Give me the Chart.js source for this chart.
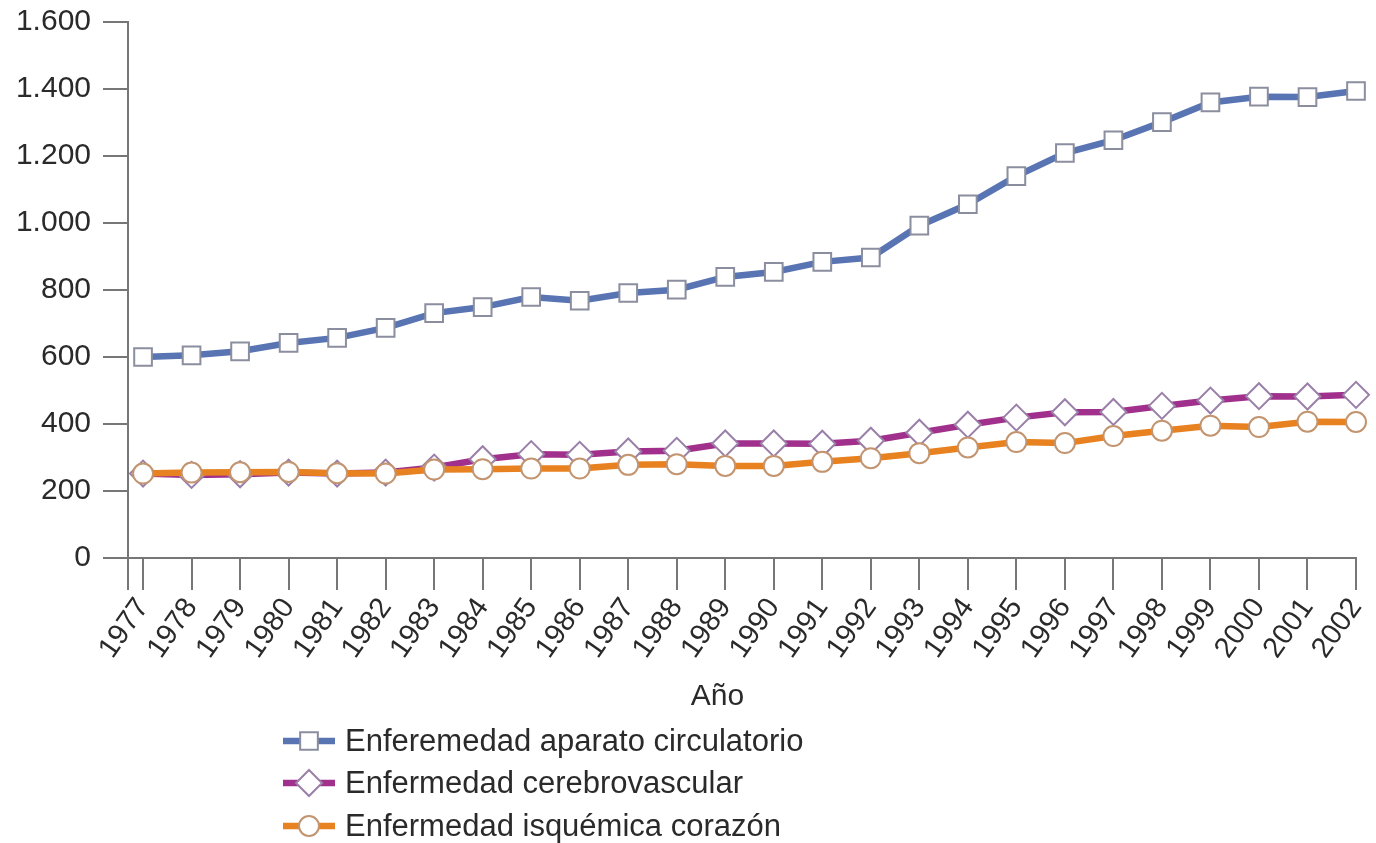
<!DOCTYPE html>
<html lang="es">
<head>
<meta charset="utf-8">
<title>Mortalidad por enfermedades del aparato circulatorio, 1977–2002</title>
<script src="https://cdn.jsdelivr.net/npm/chart.js@4/dist/chart.umd.min.js"></script>
<style>
  html, body { margin: 0; padding: 0; background: #ffffff; }
  #wrap { width: 1376px; height: 843px; }
</style>
</head>
<body>
<div id="wrap"><canvas id="chart" width="1376" height="843"></canvas></div>
<script>
// Años
const years = [1977, 1978, 1979, 1980, 1981, 1982, 1983, 1984, 1985, 1986, 1987, 1988, 1989,
               1990, 1991, 1992, 1993, 1994, 1995, 1996, 1997, 1998, 1999, 2000, 2001, 2002];

// Series
const circulatorio = [600, 605, 617, 642, 657, 687, 731, 749, 779, 768, 791, 801, 839,
                      854, 884, 897, 992, 1056, 1140, 1209, 1247, 1301, 1360, 1377, 1376, 1394];
const cerebrovascular = [252, 248, 250, 255, 252, 255, 270, 295, 310, 308, 318, 320, 342,
                         342, 341, 350, 374, 398, 419, 435, 436, 454, 470, 483, 482, 487];
const isquemica = [252, 255, 256, 257, 253, 252, 264, 265, 267, 267, 278, 280, 275,
                   275, 287, 298, 313, 330, 346, 343, 364, 380, 395, 391, 407, 406];

const seriesNames = ['Enferemedad aparato circulatorio', 'Enfermedad cerebrovascular', 'Enfermedad isquémica corazón'];

// Eje Y
const yTicks = [0, 200, 400, 600, 800, 1000, 1200, 1400, 1600];
const axisTitle = 'Año';

const FONT = '"Liberation Sans", Arial, Helvetica, sans-serif';
const TEXT = '#2a2a2a';
const AXIS = '#777777';

// the x axis starts a little before the first year
const xMin = 1976.69;

function fmtThousands(v) {
  if (v >= 1000) return Math.floor(v / 1000) + '.' + String(v % 1000).padStart(3, '0');
  return String(v);
}

const styles = [
  { color: '#5874b3', border: '#8a8e9e', point: 'rect',    radius: 12.5 },
  { color: '#a0308c', border: '#9a80a8', point: 'rectRot', radius: 13 },
  { color: '#e8811f', border: '#c29470', point: 'circle',  radius: 10 }
];

const seriesValues = [circulatorio, cerebrovascular, isquemica];

const datasets = seriesValues.map((vals, i) => ({
  label: seriesNames[i],
  data: years.map((yr, j) => ({ x: yr, y: vals[j] })),
  borderColor: styles[i].color,
  backgroundColor: styles[i].color,
  borderWidth: 6.5,
  tension: 0,
  clip: false,
  pointStyle: styles[i].point,
  pointRadius: styles[i].radius,
  pointBackgroundColor: '#ffffff',
  pointBorderColor: styles[i].border,
  pointBorderWidth: 2,
  order: 2 - i
}));

// Axis title and a legend stacked in a column under it
const stackedLegend = {
  id: 'stackedLegend',
  afterDraw(chart) {
    const ctx = chart.ctx;
    const area = chart.chartArea;
    ctx.save();
    ctx.fillStyle = TEXT;
    ctx.font = '30px ' + FONT;
    ctx.textAlign = 'center';
    ctx.textBaseline = 'middle';
    ctx.fillText(axisTitle, area.left + (area.right - area.left) * 0.48, 697);

    const x0 = 283, x1 = 335, tx = 345;
    const rows = [741, 783, 826];
    chart.data.datasets.forEach((ds, i) => {
      const y = rows[i];
      ctx.strokeStyle = ds.borderColor;
      ctx.lineWidth = 6.5;
      ctx.beginPath();
      ctx.moveTo(x0, y);
      ctx.lineTo(x1, y);
      ctx.stroke();
      const cx = (x0 + x1) / 2;
      ctx.fillStyle = '#ffffff';
      ctx.strokeStyle = ds.pointBorderColor;
      ctx.lineWidth = 2;
      ctx.beginPath();
      if (ds.pointStyle === 'rect') {
        const s = ds.pointRadius * Math.SQRT1_2;
        ctx.rect(cx - s, y - s, 2 * s, 2 * s);
      } else if (ds.pointStyle === 'rectRot') {
        const r = ds.pointRadius;
        ctx.moveTo(cx, y - r); ctx.lineTo(cx + r, y); ctx.lineTo(cx, y + r); ctx.lineTo(cx - r, y);
        ctx.closePath();
      } else {
        ctx.arc(cx, y, ds.pointRadius, 0, Math.PI * 2);
      }
      ctx.fill();
      ctx.stroke();
      ctx.fillStyle = TEXT;
      ctx.font = '31px ' + FONT;
      ctx.textAlign = 'left';
      ctx.textBaseline = 'middle';
      ctx.fillText(ds.label, tx, y + 1);
    });
    ctx.restore();
  }
};

new Chart(document.getElementById('chart'), {
  type: 'line',
  data: { datasets },
  plugins: [stackedLegend],
  options: {
    responsive: false,
    animation: false,
    devicePixelRatio: 1,
    layout: { padding: { top: 22, right: 20, bottom: 130, left: 0 } },
    plugins: {
      legend: { display: false },
      tooltip: { enabled: false }
    },
    scales: {
      x: {
        type: 'linear',
        min: xMin,
        max: years[years.length - 1],
        afterBuildTicks: (axis) => { axis.ticks = [xMin, ...years].map(v => ({ value: v })); },
        afterFit: (axis) => { axis.height = 155; axis.paddingRight = 0; axis.paddingLeft = 0; },
        grid: { display: true, drawOnChartArea: false, drawTicks: true, tickLength: 32, color: AXIS, lineWidth: 2 },
        border: { display: true, color: AXIS, width: 2 },
        ticks: {
          autoSkip: false,
          minRotation: 55,
          maxRotation: 55,
          padding: 2,
          color: TEXT,
          font: { family: FONT, size: 29 },
          callback: (v) => Number.isInteger(v) ? String(v) : ''
        },
        title: { display: false }
      },
      y: {
        min: yTicks[0],
        max: yTicks[yTicks.length - 1],
        afterBuildTicks: (axis) => { axis.ticks = yTicks.map(v => ({ value: v })); },
        afterFit: (axis) => { axis.width = 128; axis.paddingTop = 0; axis.paddingBottom = 0; },
        grid: { display: true, drawOnChartArea: false, drawTicks: true, tickLength: 25, color: AXIS, lineWidth: 2 },
        border: { display: true, color: AXIS, width: 2 },
        ticks: {
          padding: 12,
          color: TEXT,
          font: { family: FONT, size: 30 },
          callback: (v) => fmtThousands(v)
        }
      }
    }
  }
});
</script>
</body>
</html>
